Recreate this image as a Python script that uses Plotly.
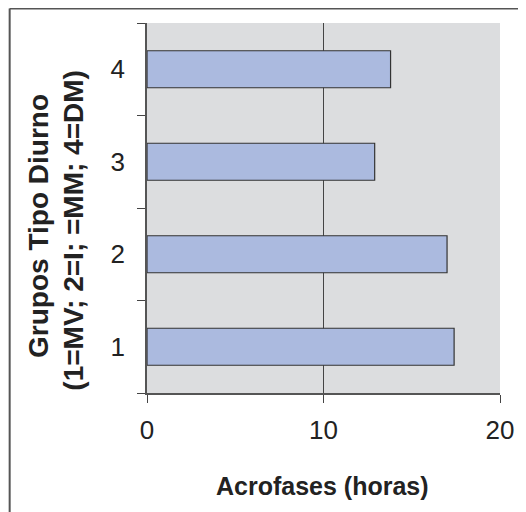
import plotly.graph_objects as go

groups = ["1", "2", "3", "4"]
acrofases = [17.4, 17.0, 12.9, 13.8]
x_ticks = [0, 10, 20]

# page body has an 8px margin; figure origin sits at (8, 8) in the window
OFF = 8
W, H = 526 - OFF, 512 - OFF
L, T = 147 - OFF, 23 - OFF
pw, ph = 356, 370
R, B = W - L - pw, H - T - ph

def px(xw):
    return (xw - OFF - L) / pw

def py(yw):
    return (T + ph - (yw - OFF)) / ph

fig = go.Figure(go.Bar(
    x=acrofases, y=groups, orientation="h", width=0.4,
    marker=dict(color="#ABBADF", line=dict(color="#333333", width=1.2)),
))

font = "Liberation Sans, Arial, Helvetica, sans-serif"

fig.update_layout(
    width=W, height=H,
    margin=dict(l=L, r=R, t=T, b=B),
    paper_bgcolor="white", plot_bgcolor="#DCDDDF",
    showlegend=False,
    font=dict(family=font, color="#222222"),
    xaxis=dict(
        range=[0, 20], tickvals=x_ticks, ticktext=[str(v) for v in x_ticks],
        showgrid=True, gridcolor="#444444", gridwidth=1,
        showline=True, linecolor="#555555", linewidth=1.5,
        ticks="outside", ticklen=8, tickcolor="#444444",
        tickfont=dict(size=26, color="#222222"), ticklabelstandoff=5,
        zeroline=False, fixedrange=True,
    ),
    yaxis=dict(
        type="category", categoryorder="array", categoryarray=groups,
        showgrid=False, showline=True, linecolor="#555555", linewidth=1.5,
        ticks="outside", ticklen=8, tickcolor="#444444", tickson="boundaries",
        tickfont=dict(size=26, color="#222222"), ticklabelstandoff=15,
        fixedrange=True,
    ),
    annotations=[
        dict(text="<b>Acrofases (horas)</b>", xref="paper", yref="paper",
             x=px(324), y=py(486), xanchor="center", yanchor="middle",
             showarrow=False,
             font=dict(size=25, family=font, color="#222222")),
        dict(text="<b>Grupos Tipo Diurno</b>", xref="paper", yref="paper",
             x=px(38), y=py(226), xanchor="center", yanchor="middle",
             showarrow=False, textangle=-90,
             font=dict(size=28, family=font, color="#222222")),
        dict(text="<b>(1=MV; 2=I; =MM; 4=DM)</b>", xref="paper", yref="paper",
             x=px(72), y=py(230), xanchor="center", yanchor="middle",
             showarrow=False, textangle=-90,
             font=dict(size=28, family=font, color="#222222")),
    ],
    shapes=[
        dict(type="line", xref="paper", yref="paper",
             x0=px(8.5), y0=py(8.5), x1=px(8.5), y1=py(530),
             line=dict(color="#555555", width=2)),
        dict(type="line", xref="paper", yref="paper",
             x0=px(8.5), y0=py(8.5), x1=px(540), y1=py(8.5),
             line=dict(color="#555555", width=2)),
    ],
)

fig.write_html("out.html")
